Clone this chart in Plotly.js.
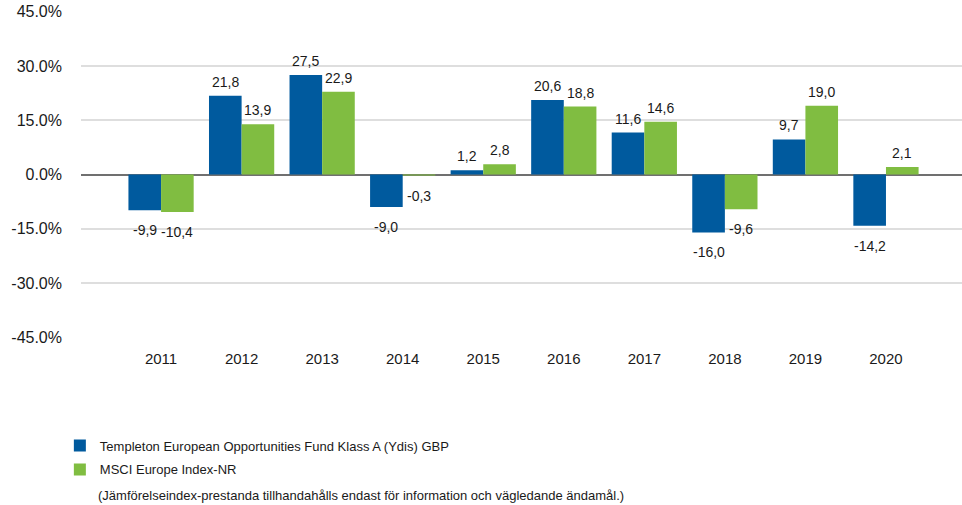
<!DOCTYPE html>
<html>
<head>
<meta charset="utf-8">
<script src="https://cdn.plot.ly/plotly-3.0.1.min.js"></script>
<style>html,body{margin:0;padding:0;background:#fff;}#chart{width:962px;height:505px;}</style>
</head>
<body>
<div id="chart"></div>
<script>
const years = ['2011','2012','2013','2014','2015','2016','2017','2018','2019','2020'];
const fundName = 'Templeton European Opportunities Fund Klass A (Ydis) GBP';
const indexName = 'MSCI Europe Index-NR';
const fundValues = [-9.9, 21.8, 27.5, -9.0, 1.2, 20.6, 11.6, -16.0, 9.7, -14.2];
const indexValues = [-10.4, 13.9, 22.9, -0.3, 2.8, 18.8, 14.6, -9.6, 19.0, 2.1];
const yTicks = [-45, -30, -15, 0, 15, 30, 45];
const yTickLabels = ['-45.0%', '-30.0%', '-15.0%', '0.0%', '15.0%', '30.0%', '45.0%'];
const note = '(Jämförelseindex-prestanda tillhandahålls endast för information och vägledande ändamål.)';

const FONT = '"Liberation Sans", Arial, sans-serif';
const TXT = '#1a1a1a';
const fmt = v => v.toFixed(1).replace('.', ',');

const traces = [
  {type:'bar', name:fundName, legendgroup:'fund', x:years, y:fundValues,
   marker:{color:'#005A9E', line:{width:0}}},
  {type:'bar', name:indexName, legendgroup:'index', x:years, y:indexValues,
   marker:{color:'#80BD41', line:{width:0}}}
];

const HALF = 16.3;
function labelAnns(vals, shift) {
  // category axis: annotation x given as the category's serial index
  return vals.map((v, i) => ({
    xref:'x', yref:'y', x:i, y:v, xshift:shift,
    text:fmt(v), showarrow:false,
    yanchor: v >= 0 ? 'bottom' : 'top',
    yshift: v >= 0 ? 4 : -10,
    font:{family:FONT, size:14, color:TXT}
  }));
}

const layout = {
  width:962, height:505,
  margin:{l:81, r:0, t:11, b:167},
  paper_bgcolor:'#fff', plot_bgcolor:'#fff',
  font:{family:FONT, size:14, color:TXT},
  barmode:'group', bargap:0.19, bargroupgap:0,
  showlegend:true,
  legend:{orientation:'v', x:-0.024, xanchor:'left', y:-0.283, yanchor:'top',
          font:{family:FONT, size:13, color:TXT}, traceorder:'grouped', tracegroupgap:4,
          itemwidth:30, bgcolor:'rgba(0,0,0,0)'},
  xaxis:{type:'category', range:[-0.994, 9.944], showgrid:false, zeroline:false, showline:false,
         ticks:'', ticklabelstandoff:10, tickfont:{family:FONT, size:15, color:TXT}},
  yaxis:{range:[-45.2, 45.2], tickvals:yTicks, ticktext:yTickLabels, ticks:'',
         ticklabelstandoff:18, tickfont:{family:FONT, size:16, color:TXT},
         showgrid:true, gridcolor:'#dedede', gridwidth:1.5,
         zeroline:true, zerolinecolor:'#707070', zerolinewidth:2, showline:false},
  annotations:[
    ...labelAnns(fundValues, -HALF),
    ...labelAnns(indexValues, HALF),
    {xref:'paper', yref:'paper', x:0.017, y:-0.453, xanchor:'left', yanchor:'top',
     text:note, showarrow:false, font:{family:FONT, size:13, color:TXT}}
  ]
};

Plotly.newPlot('chart', traces, layout, {displayModeBar:false, staticPlot:true});
</script>
</body>
</html>
